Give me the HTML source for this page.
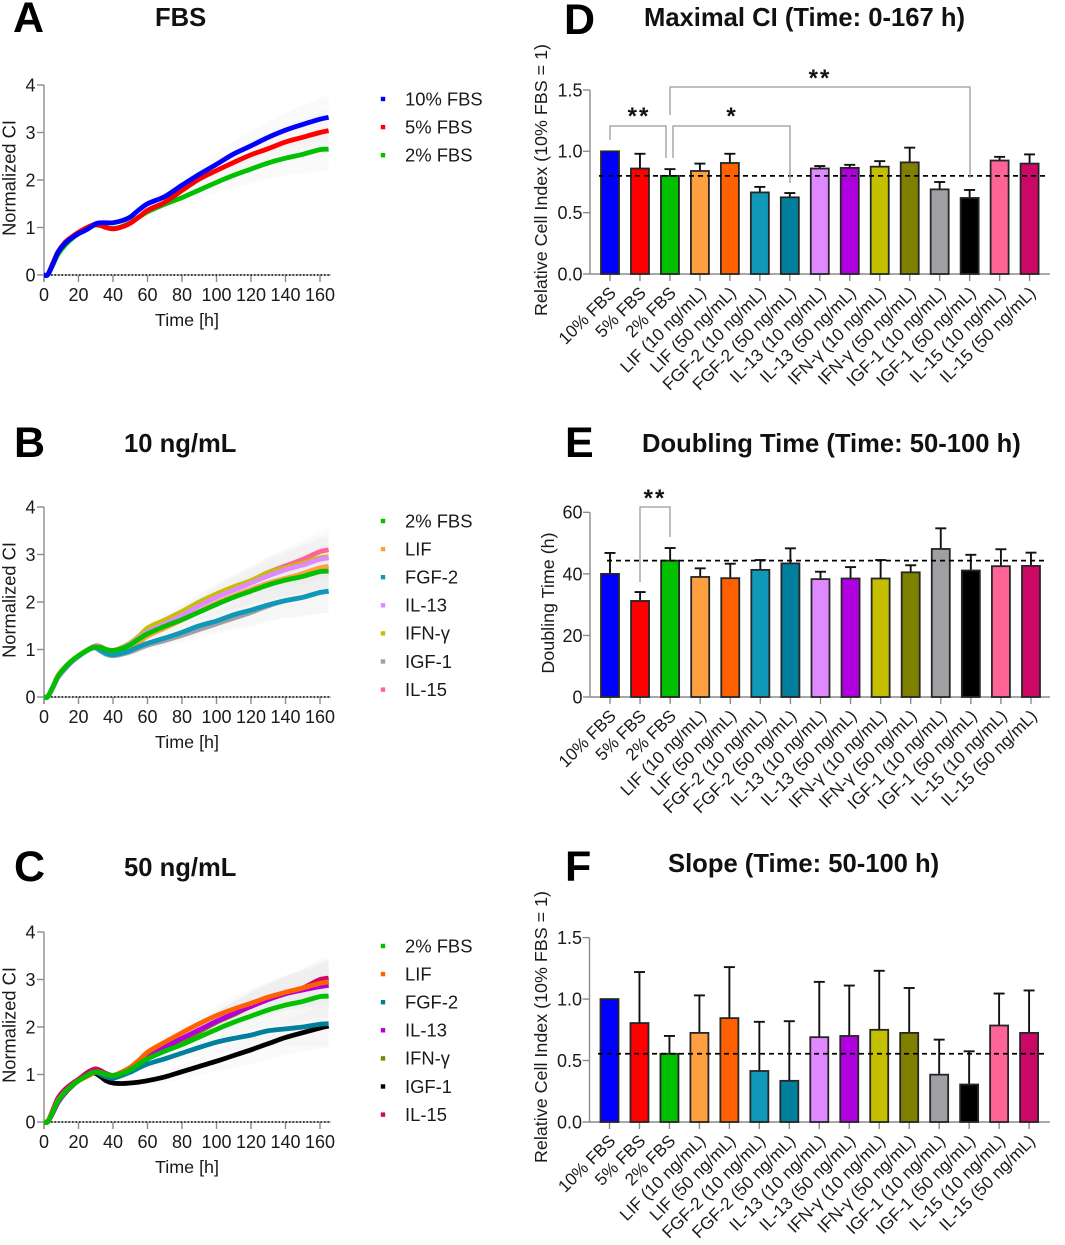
<!DOCTYPE html>
<html lang="en">
<head>
<meta charset="utf-8">
<title>Cell index panels</title>
<style>
html,body{margin:0;padding:0;background:#fff;}
svg{display:block;font-family:"Liberation Sans",Arial,sans-serif;}
.panel-letter{font-size:43px;font-weight:700;fill:#000;}
.title{font-size:25.6px;font-weight:700;fill:#111;}
</style>
</head>
<body>
<svg id="figure" xmlns="http://www.w3.org/2000/svg" width="1065" height="1245" viewBox="0 0 1065 1245">
  <rect x="0" y="0" width="1065" height="1245" fill="#fff"/>
  <text class="panel-letter" x="13" y="32">A</text>
  <text class="title" x="155" y="26">FBS</text>
  <text class="panel-letter" x="14" y="457">B</text>
  <text class="title" x="124" y="452">10 ng/mL</text>
  <text class="panel-letter" x="14" y="881">C</text>
  <text class="title" x="124" y="876">50 ng/mL</text>
  <text class="panel-letter" x="564" y="34">D</text>
  <text class="title" x="644" y="26">Maximal CI (Time: 0-167 h)</text>
  <text class="panel-letter" x="565" y="457">E</text>
  <text class="title" x="642" y="452">Doubling Time (Time: 50-100 h)</text>
  <text class="panel-letter" x="565" y="881">F</text>
  <text class="title" x="668" y="872">Slope (Time: 50-100 h)</text>
</svg>
<script>
// ---- Line chart data (normalized cell index over time) ----
const timeHours = [0,2,5,8,12,16,20,25,28,30,33,36,40,45,50,55,60,70,80,90,100,110,120,130,140,150,160,165];
const bandSD    = [0,0,.01,.02,.03,.03,.04,.04,.05,.05,.05,.05,.05,.06,.07,.08,.1,.12,.15,.18,.22,.26,.3,.33,.36,.4,.44,.46];
const fbs2  = [0,0,.2,.43,.62,.76,.87,.98,1.04,1.05,1.04,1.0,.98,1.02,1.1,1.22,1.33,1.49,1.63,1.79,1.95,2.1,2.23,2.36,2.46,2.54,2.64,2.65];
const fbs5  = [0,0,.24,.48,.68,.8,.9,1.0,1.05,1.06,1.04,1.0,.97,1.01,1.09,1.22,1.36,1.53,1.78,2.02,2.2,2.37,2.53,2.66,2.8,2.9,3.0,3.04];
const fbs10 = [0,0,.22,.47,.66,.78,.87,.96,1.03,1.08,1.1,1.1,1.1,1.14,1.22,1.37,1.5,1.65,1.89,2.12,2.33,2.55,2.72,2.9,3.05,3.17,3.28,3.32];
const lif10 = [0,0,.2,.45,.62,.76,.87,.98,1.03,1.05,1.03,.97,.93,.97,1.05,1.15,1.28,1.45,1.62,1.8,1.98,2.13,2.27,2.4,2.5,2.6,2.72,2.75];
const fgf10 = [0,0,.2,.42,.6,.75,.86,.98,1.03,1.04,.98,.92,.89,.92,.98,1.06,1.13,1.24,1.36,1.5,1.6,1.73,1.83,1.94,2.03,2.1,2.2,2.23];
const il13a = [0,0,.18,.4,.58,.73,.85,.98,1.04,1.06,1.04,1.0,.98,1.03,1.12,1.24,1.37,1.54,1.72,1.92,2.1,2.25,2.4,2.55,2.68,2.78,2.9,2.93];
const ifn10 = [0,0,.2,.43,.62,.76,.87,.99,1.04,1.06,1.05,1.0,.98,1.04,1.14,1.28,1.45,1.62,1.8,2.0,2.17,2.32,2.45,2.62,2.72,2.82,2.93,2.95];
const igf10 = [0,0,.2,.42,.6,.75,.86,.98,1.03,1.03,.96,.9,.87,.9,.95,1.02,1.09,1.19,1.3,1.42,1.54,1.66,1.78,1.92,2.03,2.1,2.2,2.23];
const il15a = [0,0,.2,.43,.62,.76,.87,.99,1.05,1.08,1.06,1.0,.98,1.03,1.12,1.26,1.42,1.58,1.76,1.96,2.13,2.3,2.44,2.62,2.76,2.9,3.06,3.1];
const lif50 = [0,0,.22,.45,.63,.76,.87,.96,1.02,1.05,1.04,1.0,.98,1.05,1.15,1.3,1.47,1.68,1.88,2.07,2.24,2.38,2.5,2.63,2.73,2.82,2.92,2.95];
const fgf50 = [0,0,.2,.43,.62,.76,.87,.99,1.04,1.05,1.0,.95,.92,.98,1.05,1.14,1.22,1.33,1.45,1.57,1.68,1.76,1.83,1.92,1.96,2.0,2.06,2.07];
const il13b = [0,0,.18,.4,.6,.75,.87,.98,1.04,1.06,1.04,1.0,.98,1.03,1.12,1.26,1.4,1.58,1.76,1.94,2.12,2.28,2.44,2.58,2.7,2.78,2.85,2.88];
const ifn50 = [0,0,.2,.42,.6,.75,.87,.98,1.04,1.06,1.04,1.0,.98,1.03,1.12,1.26,1.4,1.56,1.72,1.9,2.1,2.26,2.44,2.58,2.7,2.8,2.92,2.95];
const igf50 = [0,0,.2,.42,.6,.75,.87,.98,1.03,1.02,.95,.87,.82,.81,.82,.84,.87,.95,1.06,1.17,1.28,1.4,1.52,1.65,1.78,1.88,1.98,2.02];
const il15b = [0,0,.24,.5,.68,.8,.9,1.04,1.1,1.12,1.08,1.02,.98,1.04,1.14,1.28,1.43,1.6,1.76,1.94,2.12,2.28,2.43,2.58,2.72,2.82,3.0,3.03];
const lineXTicks = [0,20,40,60,80,100,120,140,160];
const lineYTicks = [0,1,2,3,4];

// ---- Bar chart data ----
const barCategories = ["10% FBS","5% FBS","2% FBS","LIF (10 ng/mL)","LIF (50 ng/mL)","FGF-2 (10 ng/mL)","FGF-2 (50 ng/mL)","IL-13 (10 ng/mL)","IL-13 (50 ng/mL)","IFN-γ (10 ng/mL)","IFN-γ (50 ng/mL)","IGF-1 (10 ng/mL)","IGF-1 (50 ng/mL)","IL-15 (10 ng/mL)","IL-15 (50 ng/mL)"];
const barColors = ["#0000ff","#ff0000","#00c000","#ffa040","#ff6000","#1098b8","#00809c","#e088ff","#b000e0","#c4c000","#808000","#a0a0a4","#000000","#ff6496","#cc0866"];
const maxCIValues  = [1.0,.86,.80,.84,.905,.665,.625,.86,.865,.875,.91,.69,.62,.925,.90];
const maxCIUpper   = [1.0,.98,.855,.90,.98,.71,.66,.88,.89,.92,1.03,.75,.685,.955,.975];
const doublingValues = [40,31.2,44.3,39,38.6,41.3,43.4,38.3,38.5,38.5,40.5,48.1,41.1,42.5,42.6];
const doublingUpper  = [46.8,34.1,48.4,41.8,43.3,44.5,48.3,40.7,42.2,44.5,42.8,54.8,46.2,48,46.9];
const slopeValues = [1.0,.805,.555,.725,.845,.415,.335,.69,.70,.75,.725,.385,.305,.785,.725];
const slopeUpper  = [1.0,1.22,.70,1.03,1.26,.815,.82,1.14,1.11,1.23,1.09,.67,.575,1.045,1.07];
const ratioTicks = ["0.0","0.5","1.0","1.5"];
const doublingTicks = ["0","20","40","60"];

const NS = "http://www.w3.org/2000/svg";
const root = document.getElementById("figure");
const AXIS = "#8c8c8c";

function mk(tag, attrs, name, parent) {
  const node = document.createElementNS(NS, tag);
  for (const k in attrs) node.setAttribute(k, attrs[k]);
  
  
  (parent || root).appendChild(node);
  return node;
}
function label(x, y, str, size, anchor, name, rot, parent) {
  const a = {x: x, y: y, "font-size": size, "text-anchor": anchor, fill: "#1a1a1a"};
  if (rot) a.transform = "rotate(" + rot + " " + x + " " + y + ")";
  const t = mk("text", a, name, parent);
  t.textContent = str;
  return t;
}
function hline(x1, y1, x2, y2, stroke, w, name, parent, dash) {
  const a = {x1: x1, y1: y1, x2: x2, y2: y2, stroke: stroke, "stroke-width": w};
  if (dash) a["stroke-dasharray"] = dash;
  return mk("line", a, name, parent);
}
// Smooth path through the samples using finite-difference tangents
function smoothPath(xs, ys) {
  const n = xs.length;
  const slope = i => {
    const a = Math.max(i - 1, 0), b = Math.min(i + 1, n - 1);
    return (ys[b] - ys[a]) / (xs[b] - xs[a]);
  };
  let d = "M" + xs[0].toFixed(1) + " " + ys[0].toFixed(1);
  for (let i = 0; i < n - 1; i++) {
    const h = (xs[i + 1] - xs[i]) / 3;
    d += "C" + (xs[i] + h).toFixed(1) + " " + (ys[i] + slope(i) * h).toFixed(1) + " " +
         (xs[i + 1] - h).toFixed(1) + " " + (ys[i + 1] - slope(i + 1) * h).toFixed(1) + " " +
         xs[i + 1].toFixed(1) + " " + ys[i + 1].toFixed(1);
  }
  return d;
}

function drawLinePanel(cfg) {
  const g = mk("g", {}, cfg.id + "-line-chart");
  const xS = t => 44 + t * 1.725;
  const yS = v => cfg.y0 - v * 47.5;
  // sd bands
  cfg.series.forEach(s => {
    const up = s.values.map((v, i) => xS(timeHours[i]).toFixed(1) + "," + yS(v + bandSD[i]).toFixed(1));
    const dn = s.values.map((v, i) => xS(timeHours[i]).toFixed(1) + "," + yS(v - bandSD[i]).toFixed(1)).reverse();
    mk("polygon", {points: up.concat(dn).join(" "), fill: "#e4e4e4", "fill-opacity": 0.18}, "sd-band-" + s.name, g);
  });
  // axes
  hline(44, yS(4), 44, cfg.y0 + 7, AXIS, 1.4, "y-axis", g);
  lineYTicks.forEach(v => {
    hline(37, yS(v), 44, yS(v), AXIS, 1.4, "y-tick", g);
    label(35.5, yS(v) + 6.4, String(v), 18, "end", "y-tick-label", 0, g);
  });
  hline(44, cfg.y0, 331, cfg.y0, AXIS, 1, "x-axis", g);
  lineXTicks.forEach(t => {
    hline(xS(t), cfg.y0, xS(t), cfg.y0 + 7, AXIS, 1.4, "x-tick", g);
    label(xS(t), cfg.y0 + 26, String(t), 18, "middle", "x-tick-label", 0, g);
  });
  hline(44, cfg.y0, 331, cfg.y0, "#000", 1.6, "zero-dotted-line", g, "1.6 1.9");
  label(187, cfg.y0 + 51, "Time [h]", 17.9, "middle", "x-axis-title", 0, g);
  label(15.5, cfg.y0 - 97, "Normalized CI", 18.3, "middle", "y-axis-title", -90, g);
  // series
  cfg.series.forEach(s => {
    const xs = timeHours.map(xS);
    const ys = s.values.map(yS);
    mk("path", {d: smoothPath(xs, ys), fill: "none", stroke: s.color, "stroke-width": 4.8, "stroke-linejoin": "round", "stroke-linecap": "butt"}, "line-" + s.name, g);
  });
  // legend
  cfg.legend.forEach((s, i) => {
    const y = cfg.y0 - 176 + i * 28.1;
    const entry = mk("g", {}, "legend-entry", g);
    mk("rect", {x: 380.8, y: y - 2.2, width: 4.4, height: 4.4, fill: s.color}, "legend-marker", entry);
    label(405, y + 6.3, s.label, 18.4, "start", "legend-label", 0, entry);
  });
}

function drawBarPanel(cfg) {
  const g = mk("g", {}, cfg.id + "-bar-chart");
  const yS = v => cfg.y0 - v * cfg.pxPerUnit;
  const xS = i => cfg.x0 + 20 + i * cfg.step;
  const ax = cfg.x0;
  hline(ax, yS(cfg.ticks[cfg.ticks.length - 1]), ax, cfg.y0, AXIS, 1.4, "y-axis", g);
  cfg.ticks.forEach(tk => {
    const v = parseFloat(tk);
    hline(ax - 7, yS(v), ax, yS(v), AXIS, 1.4, "y-tick", g);
    label(ax - 7.5, yS(v) + 6.4, tk, 18, "end", "y-tick-label", 0, g);
  });
  hline(ax, cfg.y0, 1050, cfg.y0, AXIS, 1.4, "x-axis", g);
  barCategories.forEach((c, i) => {
    hline(xS(i), cfg.y0, xS(i), cfg.y0 + 7, AXIS, 1.4, "x-tick", g);
    label(xS(i) + 7, cfg.y0 + 20, c, 17.2, "end", "x-tick-label", -45, g);
  });
  label(cfg.titleX, cfg.titleY, cfg.yTitle, 17.9, "middle", "y-axis-title", -90, g);
  cfg.values.forEach((v, i) => {
    const up = cfg.upper[i];
    if (up > v) {
      hline(xS(i), yS(v), xS(i), yS(up), "#111", 1.9, "error-bar", g);
      hline(xS(i) - 5.5, yS(up), xS(i) + 5.5, yS(up), "#111", 1.9, "error-cap", g);
    }
    mk("rect", {x: xS(i) - 9, y: yS(v), width: 18, height: cfg.y0 - yS(v), fill: barColors[i], stroke: "#262626", "stroke-width": 1.8}, "bar-" + i, g);
  });
  hline(cfg.refStart, yS(cfg.reference), 1046, yS(cfg.reference), "#000", 1.8, "reference-dashed-line", g, "5 4");
  (cfg.brackets || []).forEach(b => {
    const p = [b[0] + "," + b[1], b[0] + "," + b[2], b[3] + "," + b[2], b[3] + "," + b[4]].join(" ");
    mk("polyline", {points: p, fill: "none", stroke: "#9a9a9a", "stroke-width": 1.3}, "significance-bracket", g);
  });
  (cfg.stars || []).forEach(s => {
    const t = mk("text", {x: s[0], y: s[1], "font-size": 24, "font-weight": 700, "text-anchor": "middle", fill: "#111", "letter-spacing": "2"}, "significance-stars", g);
    t.textContent = s[2];
  });
}

const C = {f2:"#00c000", f5:"#ff0000", f10:"#0000ff", lif10:"#ffa040", lif50:"#ff6000", fgf10:"#1098b8", fgf50:"#00809c", il10:"#e088ff", il50:"#b000e0", ifn10:"#c4c000", ifn50:"#808000", igf10:"#a0a0a4", igf50:"#000000", i1510:"#ff6496", i1550:"#cc0866"};

drawLinePanel({id:"panel-a", y0:275,
  series:[{name:"2-fbs",values:fbs2,color:C.f2},{name:"5-fbs",values:fbs5,color:C.f5},{name:"10-fbs",values:fbs10,color:C.f10}],
  legend:[{label:"10% FBS",color:C.f10},{label:"5% FBS",color:C.f5},{label:"2% FBS",color:C.f2}]});
drawLinePanel({id:"panel-b", y0:697,
  series:[{name:"il15",values:il15a,color:C.i1510},{name:"ifn",values:ifn10,color:C.ifn10},{name:"il13",values:il13a,color:C.il10},{name:"lif",values:lif10,color:C.lif10},{name:"igf1",values:igf10,color:C.igf10},{name:"fgf2",values:fgf10,color:C.fgf10},{name:"2-fbs",values:fbs2,color:C.f2}],
  legend:[{label:"2% FBS",color:C.f2},{label:"LIF",color:C.lif10},{label:"FGF-2",color:C.fgf10},{label:"IL-13",color:C.il10},{label:"IFN-γ",color:C.ifn10},{label:"IGF-1",color:C.igf10},{label:"IL-15",color:C.i1510}]});
drawLinePanel({id:"panel-c", y0:1122,
  series:[{name:"igf1",values:igf50,color:C.igf50},{name:"fgf2",values:fgf50,color:C.fgf50},{name:"il15",values:il15b,color:C.i1550},{name:"ifn",values:ifn50,color:C.ifn50},{name:"il13",values:il13b,color:C.il50},{name:"lif",values:lif50,color:C.lif50},{name:"2-fbs",values:fbs2,color:C.f2}],
  legend:[{label:"2% FBS",color:C.f2},{label:"LIF",color:C.lif50},{label:"FGF-2",color:C.fgf50},{label:"IL-13",color:C.il50},{label:"IFN-γ",color:C.ifn50},{label:"IGF-1",color:C.igf50},{label:"IL-15",color:C.i1550}]});

drawBarPanel({id:"panel-d", x0:590, y0:274, pxPerUnit:122.67, step:29.97, ticks:ratioTicks,
  values:maxCIValues, upper:maxCIUpper, reference:.80, refStart:599,
  yTitle:"Relative Cell Index (10% FBS = 1)", titleX:547, titleY:180,
  brackets:[[610,140,126,666,158],[673,158,126,790,183],[670,115,87,970,178]],
  stars:[[639,124,"**"],[732,124,"*"],[820,86,"**"]]});
drawBarPanel({id:"panel-e", x0:590, y0:697, pxPerUnit:3.078, step:30.07, ticks:doublingTicks,
  values:doublingValues, upper:doublingUpper, reference:44.3, refStart:607,
  yTitle:"Doubling Time (h)", titleX:554, titleY:603,
  brackets:[[640,582,507,670,537]],
  stars:[[655,506,"**"]]});
drawBarPanel({id:"panel-f", x0:589.5, y0:1122, pxPerUnit:122.93, step:29.97, ticks:ratioTicks,
  values:slopeValues, upper:slopeUpper, reference:.555, refStart:598,
  yTitle:"Relative Cell Index (10% FBS = 1)", titleX:547, titleY:1027});
</script>
</body>
</html>
